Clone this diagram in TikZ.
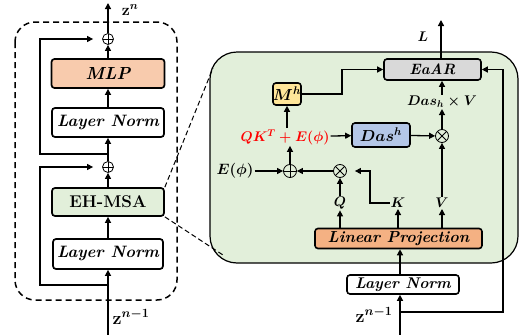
\RequirePackage{fix-cm}
\documentclass[tikz,border=0pt]{standalone}
\usepackage{amsmath,amssymb,bm}
\usepackage{fontspec}
\usetikzlibrary{arrows.meta,calc}
\definecolor{mlpc}{HTML}{F8CBAD}
\definecolor{greenc}{HTML}{E2EFDA}
\definecolor{lpc}{HTML}{F4B183}
\definecolor{greyc}{HTML}{D9D9D9}
\definecolor{yelc}{HTML}{FFE699}
\definecolor{bluec}{HTML}{B4C7E7}
\definecolor{redc}{HTML}{FF0000}
\begin{document}
\begin{tikzpicture}[x=1pt,y=-1pt,
  blk/.style={draw, line width=1.7pt, rounded corners=3pt, inner sep=0pt, font=\fontsize{16.5}{16.5}\selectfont\bfseries\itshape\boldmath},
  rblk/.style={draw, line width=1.6pt, rounded corners=3pt, inner sep=0pt, font=\fontsize{15.5}{15.5}\selectfont\bfseries\itshape\boldmath},
  arr/.style={line width=1.3pt, -{Triangle[length=6pt,width=6pt]}},
  ln/.style={line width=1.3pt},
  lbl/.style={inner sep=1pt, font=\fontsize{14}{14}\selectfont\boldmath},
  zlbl/.style={inner sep=1pt, font=\fontsize{18}{18}\selectfont\boldmath},
  plus/.style={circle, draw, line width=0.8pt, inner sep=0pt, minimum size=#1,
    path picture={\draw[line width=0.8pt] (path picture bounding box.north) -- (path picture bounding box.south) (path picture bounding box.west) -- (path picture bounding box.east);}},
  times/.style={circle, draw, line width=0.8pt, inner sep=0pt, minimum size=#1,
    path picture={\draw[line width=0.8pt] (path picture bounding box.north west) -- (path picture bounding box.south east) (path picture bounding box.south west) -- (path picture bounding box.north east);}}
]
\useasboundingbox (0,0) rectangle (520,335);

% ---------- left panel ----------
\draw[line width=1.5pt, dash pattern=on 6pt off 4pt, rounded corners=20pt] (15,22) rectangle (177,300);

\node[blk, fill=mlpc, minimum width=113pt, minimum height=29pt, font=\fontsize{17.5}{17.5}\selectfont\bfseries\itshape] (mlp) at (108,73.5) {MLP};
\node[blk, minimum width=112pt, minimum height=29pt] (ln1) at (108,122.5) {Layer Norm};
\node[blk, fill=greenc, minimum width=112pt, minimum height=28pt, font=\fontsize{17}{17}\selectfont\bfseries] (eh) at (108,202) {EH-MSA};
\node[blk, minimum width=110pt, minimum height=30pt] (ln2) at (108,254) {Layer Norm};
\node[plus=11pt] (p1) at (108,39) {};
\node[plus=11pt] (p2) at (108,167) {};
\coordinate (zin) at (108,335);
\coordinate (zout) at (108,3);
\node[zlbl, font=\fontsize{16}{16}\selectfont\boldmath] (zn) at (130,10) {$\mathbf{z}^{n}$};
\node[zlbl] (znm) at (131,317) {$\mathbf{z}^{n-1}$};

\draw[arr] (zin) -- (ln2);
\draw[arr] (ln2) -- (eh);
\draw[arr] (eh) -- (p2);
\draw[arr] (p2) -- (ln1);
\draw[arr] (ln1) -- (mlp);
\draw[arr] (mlp) -- (p1);
\draw[arr] (p1) -- (zout);
\coordinate (r2) at (108,285);
\coordinate (r1) at (108,154);
\draw[arr, shorten >=9pt] (r2) -- (40,285) -- (40,167) -- (p2.west);
\draw[arr, shorten >=9pt] (r1) -- (40,154) -- (40,39) -- (p1.west);

% ---------- right panel ----------
\draw[fill=greenc, line width=1.2pt, rounded corners=27pt] (210,52) rectangle (518,263);
\draw[line width=1pt, dash pattern=on 5pt off 3pt] (eh.north east) -- (213,68);
\draw[line width=1pt, dash pattern=on 5pt off 3pt] (eh.south east) -- (223,255);

\node[rblk, fill=greyc, minimum width=97pt, minimum height=21pt, font=\fontsize{15}{15}\selectfont\bfseries\itshape] (eaar) at (432.5,69.5) {EaAR};
\node[rblk, fill=yelc, minimum width=28pt, minimum height=22pt, font=\fontsize{16}{16}\selectfont\boldmath] (mh) at (287,94) {$M^h$};
\node[lbl, text=redc] (qk) at (285,137) {$QK^T+E(\phi)$};
\node[rblk, fill=bluec, minimum width=58pt, minimum height=24pt, font=\fontsize{16}{16}\selectfont\boldmath] (das) at (381,135) {$Das^h$};
\node[times=13pt] (t1) at (442,136) {};
\node[lbl] (dasv) at (442,102) {$Das_h\times V$};
\node[plus=13pt] (p3) at (290,171) {};
\node[times=13pt] (t2) at (340,171) {};
\node[lbl, font=\fontsize{15}{15}\selectfont\boldmath] (ephi) at (235,171) {$E(\phi)$};
\node[lbl] (q) at (340,203) {$Q$};
\node[lbl] (k) at (398,203) {$K$};
\node[lbl] (v) at (442,203) {$V$};
\node[rblk, fill=lpc, minimum width=167pt, minimum height=20pt, font=\fontsize{16}{16}\selectfont\bfseries\itshape] (lp) at (398.5,238.5) {Linear Projection};
\node[rblk, fill=white, minimum width=112pt, minimum height=19pt] (ln3) at (403,284.5) {Layer Norm};
\node[zlbl] (zn1b) at (374,315) {$\mathbf{z}^{n-1}$};
\node[lbl] (L) at (423,37) {$L$};
\coordinate (zin2) at (400,335);
\coordinate (br) at (400,312);
\coordinate (Lout) at (441,20);

\draw[arr] (zin2) -- (ln3.south -| zin2);
\draw[arr] (br) -| (503,69.5) -- (eaar.east);
\draw[arr] (ln3.north -| zin2) -- (lp.south -| zin2);
\draw[arr] (lp.north -| q) -- (q);
\draw[arr] (lp.north -| k) -- (k);
\draw[arr] (lp.north -| v) -- (v);
\draw[arr] (q) -- (t2);
\draw[arr, shorten >=8pt] (k.west) -- (370,203) -- (370,171) -- (t2.east);
\draw[arr] (t2) -- (p3);
\draw[arr] (ephi) -- (p3);
\draw[arr] (p3) -- (qk.south -| p3);
\draw[arr] (qk.north -| mh) -- (mh);
\draw[arr] (qk) -- (das);
\draw[arr] (das) -- (t1);
\draw[arr] (v) -- (t1);
\draw[arr] (t1) -- (dasv);
\draw[arr] (dasv.north -| t1) -- (eaar.south -| t1);
\draw[arr] (mh.east) -- (342,94) |- (eaar.west);
\draw[arr] (eaar.north -| Lout) -- (Lout);
\end{tikzpicture}
\end{document}
